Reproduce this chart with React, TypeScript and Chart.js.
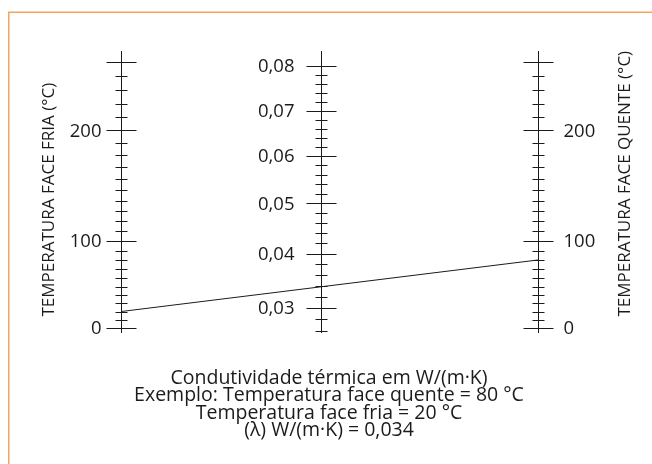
import React, { useEffect, useRef } from "react";
import { Chart, registerables, LinearScale } from "chart.js";

Chart.register(...registerables);

// ---------------- data ----------------
const TEMP_MAJOR = [0, 100, 200, 250];
const TEMP_LABELS = ["0", "100", "200"]; // labels of the first three majors
const TEMP_MINOR_STEP = 10;
const TEMP_RANGE = [-7, 257];

const LAMBDA_MAJOR = [0.03, 0.04, 0.05, 0.06, 0.07, 0.08];
const LAMBDA_LABELS = ["0,03", "0,04", "0,05", "0,06", "0,07", "0,08"];
const LAMBDA_MINOR_STEP = 0.002;
const LAMBDA_MINOR_FROM = 0.026;
const LAMBDA_RANGE = [0.0256, 0.0834];

const EXAMPLE_COLD = 20;
const EXAMPLE_HOT = 80;
const EXAMPLE_LAMBDA = "0,034";

const TITLE_COLD = "TEMPERATURA FACE FRIA (°C)";
const TITLE_HOT = "TEMPERATURA FACE QUENTE (°C)";
const FOOTER_LINES = [
  "Condutividade térmica em W/(m·K)",
  `Exemplo: Temperatura face quente = ${EXAMPLE_HOT} °C`,
  `Temperatura face fria = ${EXAMPLE_COLD} °C`,
  `(λ) W/(m·K) = ${EXAMPLE_LAMBDA}`,
];

// ---------------- styles ----------------
const INK = "#1b1b1b";
const FRAME = "#F5A45E";
const FONT = '"Open Sans", "Noto Sans", sans-serif';

// nomogram scale: pixel position is linear in v + c2*(v-ref)^2 + c3*(v-ref)^3
class NomoScale extends LinearScale {
  static id = "nomo";
  static defaults = LinearScale.defaults;
  curve(v: number) {
    const c = (this.options as any).curve || {};
    const d = v - (c.ref || 0);
    return v + (c.c2 || 0) * d * d + (c.c3 || 0) * d * d * d;
  }
  getPixelForValue(value: number) {
    const a = this.curve(this.min);
    const b = this.curve(this.max);
    return this.getPixelForDecimal((this.curve(value) - a) / (b - a));
  }
  getValueForPixel(pixel: number) {
    let lo = this.min, hi = this.max;
    const target = this.getDecimalForPixel(pixel);
    const a = this.curve(this.min), b = this.curve(this.max);
    for (let i = 0; i < 40; i++) {
      const mid = (lo + hi) / 2;
      if ((this.curve(mid) - a) / (b - a) < target) lo = mid; else hi = mid;
    }
    return (lo + hi) / 2;
  }
}
Chart.register(NomoScale as any);

const TEMP_CURVE = { ref: 0, c2: 6.785e-4, c3: 2.917e-6 };
const LAMBDA_CURVE = { ref: 0.08, c2: 0, c3: 35.85 };

function tempMinor(): number[] {
  const out: number[] = [];
  for (let i = 0; i * TEMP_MINOR_STEP <= TEMP_MAJOR[TEMP_MAJOR.length - 1]; i++) {
    const v = i * TEMP_MINOR_STEP;
    if (!TEMP_MAJOR.includes(v)) out.push(v);
  }
  return out;
}
function lambdaMinor(): number[] {
  const out: number[] = [];
  const start = Math.round(LAMBDA_MINOR_FROM / LAMBDA_MINOR_STEP);
  const end = Math.round(LAMBDA_MAJOR[LAMBDA_MAJOR.length - 1] / LAMBDA_MINOR_STEP);
  for (let i = start; i <= end; i++) {
    if (i % 5 !== 0) out.push(i * LAMBDA_MINOR_STEP);
  }
  return out;
}

type AxisDef = {
  id: string;
  at: number;
  side: "left" | "right";
  gap: number;
  major: number[];
  labels: string[];
  minor: number[];
  title?: string;
  titleX?: number;
};

const AXES: AxisDef[] = [
  { id: "yFria", at: 0, side: "left", gap: 5, major: TEMP_MAJOR, labels: TEMP_LABELS, minor: tempMinor(), title: TITLE_COLD, titleX: -68 },
  { id: "yLambda", at: 0.4786, side: "left", gap: 12, major: LAMBDA_MAJOR, labels: LAMBDA_LABELS, minor: lambdaMinor() },
  { id: "yQuente", at: 1, side: "right", gap: 10, major: TEMP_MAJOR, labels: TEMP_LABELS, minor: tempMinor(), title: TITLE_HOT, titleX: 91 },
];

const nomogramPlugin = {
  id: "nomogram",
  beforeDatasetsDraw(chart: any) {
    const ctx: CanvasRenderingContext2D = chart.ctx;
    ctx.save();
    // frame
    ctx.strokeStyle = FRAME;
    ctx.lineWidth = 1.5;
    ctx.strokeRect(8.75, 12.25, chart.width + 20, chart.height + 20);

    const xs = chart.scales.x;
    for (const def of AXES) {
      const s = chart.scales[def.id];
      const x = Math.round(xs.getPixelForValue(def.at)) + 0.5;
      ctx.strokeStyle = INK;
      ctx.lineWidth = 1;
      ctx.beginPath();
      ctx.moveTo(x, s.top);
      ctx.lineTo(x, s.bottom);
      ctx.stroke();
      ctx.beginPath();
      for (const v of def.minor) {
        const y = Math.round(s.getPixelForValue(v)) + 0.5;
        ctx.moveTo(x - 6, y);
        ctx.lineTo(x + 6, y);
      }
      ctx.stroke();
      ctx.beginPath();
      for (const v of def.major) {
        const y = Math.round(s.getPixelForValue(v)) + 0.5;
        ctx.moveTo(x - 15, y);
        ctx.lineTo(x + 15, y);
      }
      ctx.stroke();

      ctx.fillStyle = INK;
      ctx.font = `18.5px ${FONT}`;
      ctx.textBaseline = "middle";
      ctx.textAlign = def.side === "left" ? "right" : "left";
      def.labels.forEach((t, i) => {
        const y = s.getPixelForValue(def.major[i]);
        const lx = def.side === "left" ? x - 15 - def.gap : x + 15 + def.gap;
        ctx.fillText(t, lx, y + 1);
      });

      if (def.title) {
        ctx.save();
        ctx.font = `17px ${FONT}`;
        ctx.translate(x + (def.titleX || 0), s.getPixelForValue(0) - 11);
        ctx.rotate(-Math.PI / 2);
        ctx.textAlign = "left";
        ctx.textBaseline = "alphabetic";
        ctx.fillText(def.title, 0, 0);
        ctx.restore();
      }
    }
    ctx.restore();
  },
  afterDraw(chart: any) {
    const ctx: CanvasRenderingContext2D = chart.ctx;
    const area = chart.chartArea;
    ctx.save();
    ctx.fillStyle = INK;
    ctx.font = `19.5px ${FONT}`;
    ctx.textAlign = "center";
    ctx.textBaseline = "middle";
    const cx = 329;
    FOOTER_LINES.forEach((t, i) => {
      ctx.fillText(t, cx, area.bottom + 45 + i * 17.6);
    });
    ctx.restore();
  },
};

export default function App() {
  const ref = useRef<HTMLCanvasElement | null>(null);
  useEffect(() => {
    if (!ref.current) return;
    const tempScale = () => ({
      type: "nomo",
      display: false,
      min: TEMP_RANGE[0],
      max: TEMP_RANGE[1],
      curve: TEMP_CURVE,
    });
    const chart = new Chart(ref.current, {
      type: "scatter",
      data: {
        datasets: [
          {
            data: [
              { x: 0, y: EXAMPLE_COLD },
              { x: 1, y: EXAMPLE_HOT },
            ],
            yAxisID: "yFria",
            showLine: true,
            borderColor: INK,
            borderWidth: 1,
            pointRadius: 0,
          } as any,
        ],
      },
      options: {
        animation: false,
        responsive: false,
        events: [],
        layout: { padding: { left: 121, right: 114, top: 51, bottom: 131 } },
        plugins: { legend: { display: false }, tooltip: { enabled: false } },
        scales: {
          x: { type: "linear", display: false, min: 0, max: 1 },
          yFria: tempScale() as any,
          yQuente: tempScale() as any,
          yLambda: {
            type: "nomo",
            display: false,
            min: LAMBDA_RANGE[0],
            max: LAMBDA_RANGE[1],
            curve: LAMBDA_CURVE,
          } as any,
        },
      },
      plugins: [nomogramPlugin],
    });
    return () => chart.destroy();
  }, []);
  return (
    <div style={{ position: "fixed", left: 0, top: 0, width: 652, height: 464, background: "#fff" }}>
      <canvas ref={ref} width={652} height={464} style={{ display: "block" }} />
    </div>
  );
}
